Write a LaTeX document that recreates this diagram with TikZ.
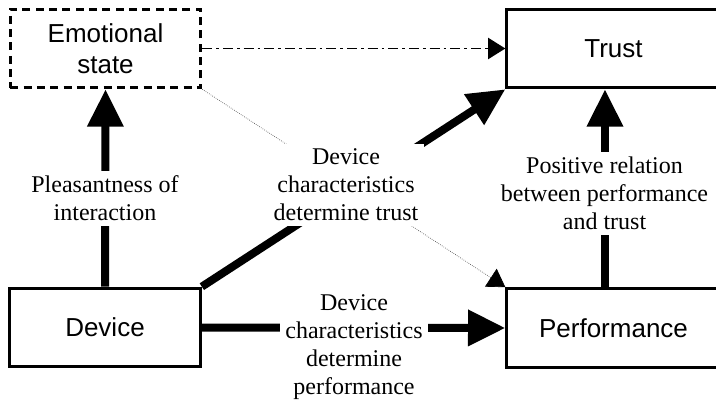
\documentclass[tikz,border=0pt]{standalone}
\usepackage{fontspec}
\setmainfont{Liberation Serif}
\setsansfont{Liberation Sans}
\usetikzlibrary{arrows.meta}

\tikzset{
  block/.style={draw, line width=2.25pt, minimum width=143pt, minimum height=59pt,
    align=center, font=\sffamily\fontsize{19.5}{23}\selectfont},
  wideblock/.style={block, minimum width=160pt},
  effect/.style={line width=6pt, -{Triangle[length=28pt,width=26pt]}},
  weak/.style={line width=1.1pt, -{Triangle[length=13pt,width=16pt,color=black]}},
  lbl/.style={fill=white, align=center, inner sep=4pt, font=\fontsize{18}{21}\selectfont}
}

\begin{document}
\begin{tikzpicture}[x=0.75pt,y=-0.75pt]
    \useasboundingbox (0,0) rectangle (716,406);

    % The four boxes
    \node[block, dash pattern=on 6pt off 4pt] (emo) at (105.5,48.5) {Emotional\\state};
    \node[wideblock] (trust) at (613.5,48.5) {Trust};
    \node[block] (device) at (105,327.5) {Device};
    \node[wideblock] (perf) at (613.5,328) {Performance};

    % Thin links
    \draw[weak, dash pattern=on 7.5pt off 3pt on 2pt off 3pt] (emo.east) -- (trust.west);
    \draw[weak, line width=0.5pt, black!70, densely dotted] (emo.south east) -- (perf.north west);

    % Thick links
    \draw[effect] (device.north) -- (emo.south);
    \draw[effect] (device.north east) -- (trust.south west);
    \draw[effect] (device.east) -- (perf.west);
    \draw[effect] ([xshift=-6.4pt]perf.north) -- ([xshift=-6.4pt]trust.south);

    % Labels
    \node[lbl] (pleasant) at (105,198.5) {Pleasantness of\\interaction};
    \node[lbl] (dtrust) at (346,185) {Device\\characteristics\\determine trust};
    \node[lbl] (dperf) at (354,347) {Device\\characteristics\\determine\\performance};
    \node[lbl] (relation) at (604.5,193.5) {Positive relation\\between performance\\and trust};

\end{tikzpicture}
\end{document}
